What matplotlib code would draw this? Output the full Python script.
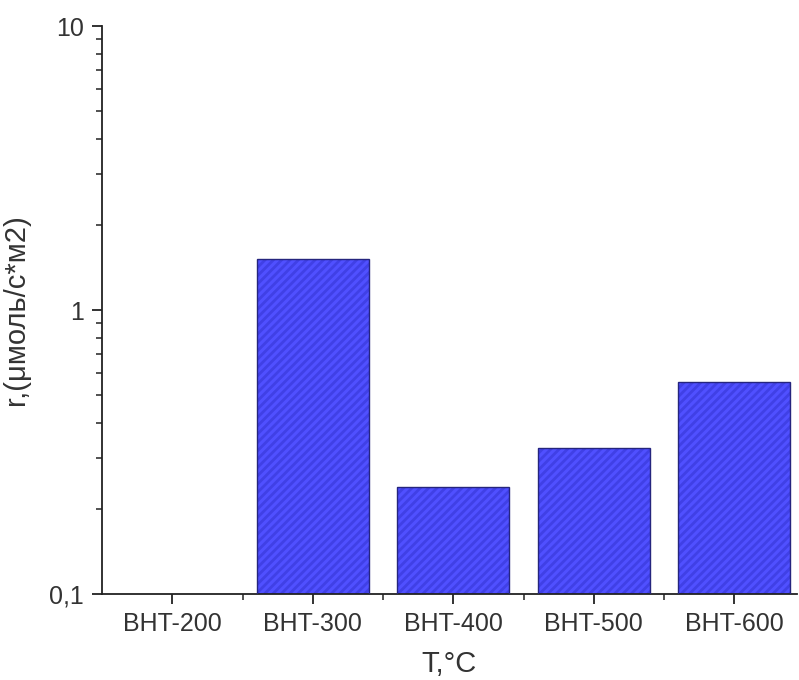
import numpy as np
import matplotlib
matplotlib.use("Agg")
import matplotlib.pyplot as plt
from matplotlib.ticker import FixedLocator, LogLocator, NullFormatter

categories = ["BHT-200", "BHT-300", "BHT-400", "BHT-500", "BHT-600"]
values = [np.nan, 1.51, 0.238, 0.327, 0.558]
yticks = [0.1, 1, 10]
yticklabels = ["0,1", "1", "10"]

plt.rcParams['font.family'] = ['Liberation Sans', 'DejaVu Sans']
plt.rcParams['hatch.linewidth'] = 2.0

fig = plt.figure(figsize=(7.99, 6.80), dpi=100)
ax = fig.add_axes([102/799, 1-594/680, (797-102)/799, (594-26)/680])
ax.set_yscale('log')

x = np.arange(len(categories))
# fill with subtle hatch
ax.bar(x, values, width=0.8, color='#5050ff', edgecolor='#4040e6',
       linewidth=0, hatch='////', zorder=2)
# outline
ax.bar(x, values, width=0.8, fill=False, edgecolor='#25257e',
       linewidth=1.0, zorder=3)

ax.set_ylim(0.1, 10)
ax.set_xlim(-0.5, -0.5 + (797-102)/140.5)
ax.set_yticks(yticks)
ax.set_yticklabels(yticklabels)
ax.yaxis.set_minor_locator(LogLocator(base=10, subs=np.arange(2, 10)))
ax.yaxis.set_minor_formatter(NullFormatter())
ax.set_xticks(x)
ax.set_xticklabels(categories)
ax.xaxis.set_minor_locator(FixedLocator(x[:-1] + 0.5))

for s in ['top', 'right']:
    ax.spines[s].set_visible(False)
for s in ['left', 'bottom']:
    ax.spines[s].set_linewidth(1.3)
    ax.spines[s].set_color('#222222')

ax.tick_params(axis='both', which='major', direction='out', length=7, width=1.3,
               labelsize=18, colors='#222222', labelcolor='#333333', pad=6)
ax.tick_params(axis='both', which='minor', direction='out', length=4, width=1.1,
               colors='#222222')

ax.set_xlabel("T,°C", fontsize=21, color='#333333', labelpad=10)
ax.set_ylabel("r,(μмоль/с*м2)", fontsize=21, color='#333333')
ax.yaxis.set_label_coords((30-102)/695, 0.5)

fig.savefig("out.png", dpi=100)
